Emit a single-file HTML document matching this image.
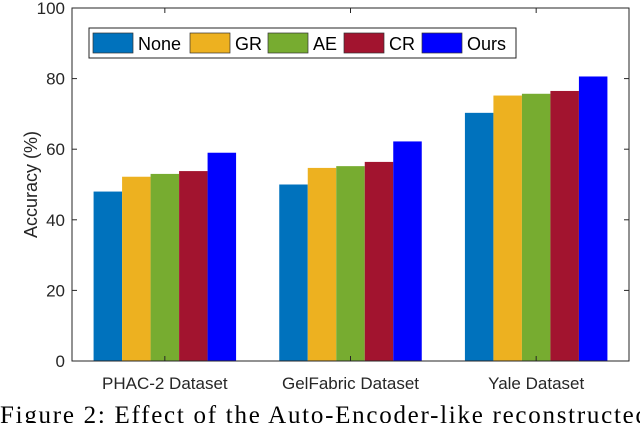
<!DOCTYPE html>
<html><head><meta charset="utf-8"><style>
body{margin:0;background:#fff;width:640px;height:423px;overflow:hidden}
svg{display:block;font-family:"Liberation Sans",Arial,sans-serif}
</style></head><body>
<svg id="c" width="640" height="423">
</svg>
<script>
const categories=["PHAC-2 Dataset","GelFabric Dataset","Yale Dataset"];
const seriesNames=["None","GR","AE","CR","Ours"];
const seriesColors=["#0072BD","#EDB120","#77AC30","#A2142F","#0000FF"];
const noneVals=[48.0,50.0,70.3];
const grVals=[52.2,54.7,75.2];
const aeVals=[53.0,55.2,75.7];
const crVals=[53.8,56.4,76.5];
const oursVals=[59.0,62.2,80.6];
const yTicks=[0,20,40,60,80,100];
const values=[noneVals,grVals,aeVals,crVals,oursVals];
const NS="http://www.w3.org/2000/svg";
const svg=document.getElementById('c');
const L=72,R=629,T=8,B=361;
function y(v){return B-(v/100)*(B-T);}
function gx(i){return L+(R-L)*(i+0.5)/categories.length;}
const bw=28.5;
function mk(tag,attrs,parent){const e=document.createElementNS(NS,tag);for(const k in attrs)e.setAttribute(k,attrs[k]);(parent||svg).appendChild(e);return e;}
values.forEach((arr,s)=>{arr.forEach((v,i)=>{
 const x=gx(i)+(s-2)*bw-bw/2;
 const r=mk('rect',{x:x,y:y(v),width:bw,height:y(0)-y(v),fill:seriesColors[s]});
 
 
});});
const box=mk('rect',{x:L,y:T,width:R-L,height:B-T,fill:'none',stroke:'#262626','stroke-width':1});


yTicks.forEach(t=>{
 mk('line',{x1:L,x2:L+5,y1:y(t),y2:y(t),stroke:'#262626'});
 mk('line',{x1:R,x2:R-5,y1:y(t),y2:y(t),stroke:'#262626'});
 const tx=mk('text',{x:L-7,y:y(t)+6,'text-anchor':'end','font-size':17,fill:'#262626'});
 tx.textContent=t;
 
 
});
categories.forEach((c,i)=>{
 mk('line',{x1:gx(i),x2:gx(i),y1:B,y2:B-5,stroke:'#262626'});
 mk('line',{x1:gx(i),x2:gx(i),y1:T,y2:T+5,stroke:'#262626'});
 const tx=mk('text',{x:gx(i),y:389,'text-anchor':'middle','font-size':17,fill:'#262626'});
 tx.textContent=c;
 
 
});
const yt=mk('text',{x:0,y:0,transform:'translate(37,'+((T+B)/2)+') rotate(-90)','text-anchor':'middle','font-size':18,fill:'#262626'});
yt.textContent='Accuracy (%)';


const lg=mk('g',{});


mk('rect',{x:89,y:28,width:427,height:30,fill:'#fff',stroke:'#262626','stroke-width':1},lg);
const sx=[93,190,268,344,422];
seriesNames.forEach((n,s)=>{
 const g=mk('g',{},lg);
 
 
 mk('rect',{x:sx[s],y:33,width:40,height:20,fill:seriesColors[s],stroke:'#333','stroke-width':0.7},g);
 const t=mk('text',{x:sx[s]+45,y:50,'font-size':18,fill:'#000'},g);
 t.textContent=n;
});
const cap=mk('text',{x:0,y:423,'font-size':25,fill:'#000','font-family':'"Liberation Serif",serif',textLength:648,lengthAdjust:'spacing'});
cap.textContent='Figure 2: Effect of the Auto-Encoder-like reconstructed';


</script>
</body></html>
